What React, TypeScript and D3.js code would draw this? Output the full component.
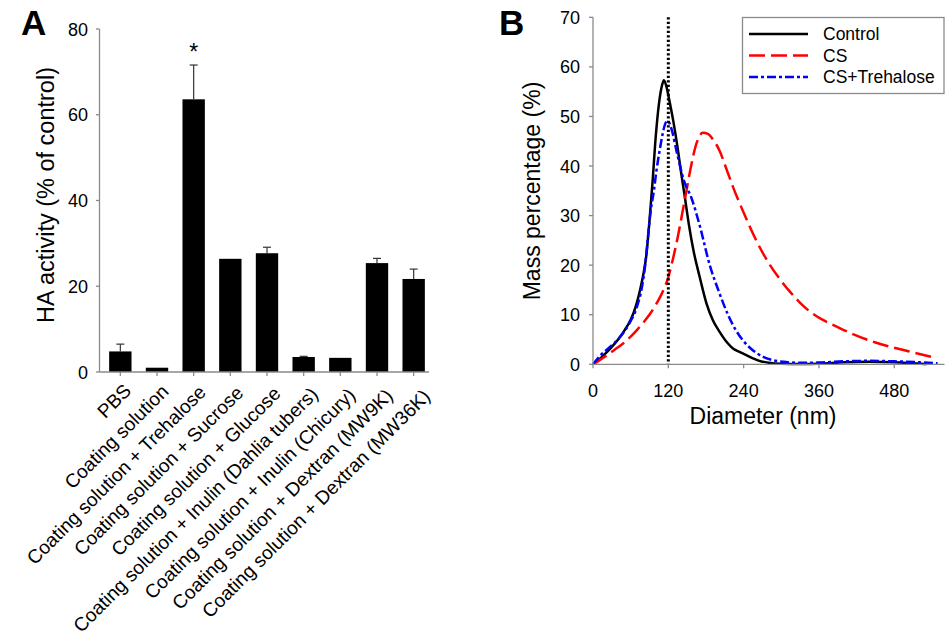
import React from "react";
import * as d3 from "d3";

// ---------- Panel A data ----------
const categoriesA = [
  "PBS",
  "Coating solution",
  "Coating solution + Trehalose",
  "Coating solution + Sucrose",
  "Coating solution + Glucose",
  "Coating solution + Inulin (Dahlia tubers)",
  "Coating solution + Inulin (Chicury)",
  "Coating solution + Dextran (MW9K)",
  "Coating solution + Dextran (MW36K)",
];
const valuesA = [4.8, 1.0, 63.6, 26.4, 27.7, 3.5, 3.3, 25.4, 21.7];
const errorsA = [1.7, 0, 8.0, 0, 1.4, 0.15, 0, 1.1, 2.3];
const significantA = [false, false, true, false, false, false, false, false, false];
const yTicksA = [0, 20, 40, 60, 80];

// ---------- Panel B data ----------
const seriesNamesB = ["Control", "CS", "CS+Trehalose"];
const controlX = [0, 10, 20, 30, 40, 50, 60, 65, 70, 75, 80, 85, 90, 95, 100, 105, 110, 113, 117, 122, 128, 135, 140, 146, 153, 160, 170, 181, 191, 202, 213, 223, 235, 245, 255, 265, 280, 300, 330, 360, 400, 440, 480, 510, 532];
const controlY = [0, 1.0, 2.2, 3.5, 5.0, 6.8, 9.0, 10.5, 12.5, 15.0, 18.0, 22.0, 29.0, 37.0, 46.0, 52.5, 56.3, 57.3, 56.0, 53.0, 49.0, 43.5, 39.0, 34.0, 28.0, 23.0, 17.6, 12.2, 8.9, 6.5, 4.5, 3.2, 2.4, 1.8, 1.2, 0.7, 0.3, 0.1, 0.05, 0.1, 0.4, 0.5, 0.4, 0.2, 0.05];
const csX = [0, 10, 22, 35, 48, 60, 70, 80, 91, 100, 107, 120, 128, 136, 144, 149, 155, 165, 175, 183, 192, 202, 212, 223, 242, 260, 282, 300, 314, 330, 345, 364, 380, 414, 450, 478, 510, 542];
const csY = [0, 0.8, 1.8, 3.0, 4.2, 5.6, 6.9, 8.4, 10.2, 12.0, 13.6, 17.6, 21.6, 26.3, 31.7, 35.1, 39.2, 44.6, 46.7, 46.5, 45.2, 43.0, 39.6, 35.8, 30.0, 25.0, 20.0, 16.8, 14.6, 12.4, 10.7, 9.1, 8.1, 6.1, 4.4, 3.4, 2.4, 1.4];
const treX = [0, 11, 27, 43, 59, 70, 78, 83, 88, 92, 97, 101, 106, 111, 115, 119, 125, 134, 145, 157, 170, 186, 201, 215, 227, 239, 255, 271, 288, 303, 330, 360, 400, 440, 480, 520, 549];
const treY = [0, 1.7, 3.5, 5.5, 8.5, 11.6, 15.6, 19.9, 26.3, 31.0, 35.0, 39.0, 43.0, 46.5, 48.5, 49.1, 47.5, 42.5, 37.0, 33.5, 28.0, 20.0, 14.5, 10.0, 7.0, 4.8, 2.8, 1.5, 0.8, 0.5, 0.3, 0.35, 0.6, 0.7, 0.6, 0.4, 0.2];
const xTicksB = [0, 120, 240, 360, 480];
const yTicksB = [0, 10, 20, 30, 40, 50, 60, 70];
const markerDiameter = 120;

const FONT = "'Liberation Sans', Arial, Helvetica, sans-serif";
const AXIS = "#8a8a8a";

export default function App() {
  // ---- Panel A scales ----
  const xA = d3.scaleBand<string>().domain(categoriesA).range([102, 432]).padding(0);
  const yA = d3.scaleLinear().domain([0, 80]).range([372, 29]);
  const barW = xA.bandwidth() * 0.61;
  const cx = (c: string) => (xA(c) as number) + xA.bandwidth() / 2;

  // ---- Panel B scales ----
  const xB = d3.scaleLinear().domain([0, 560]).range([593, 944.5]);
  const yB = d3.scaleLinear().domain([0, 70]).range([364.3, 17.3]);
  const line = d3
    .line<[number, number]>()
    .x((d) => xB(d[0]))
    .y((d) => yB(d[1]))
    .curve(d3.curveMonotoneX);
  const zip = (xs: number[], ys: number[]) => xs.map((x, i) => [x, ys[i]] as [number, number]);
  const series = [
    { name: seriesNamesB[0], pts: zip(controlX, controlY), color: "#000000", dash: undefined as string | undefined },
    { name: seriesNamesB[1], pts: zip(csX, csY), color: "#ff0000", dash: "16,6" },
    { name: seriesNamesB[2], pts: zip(treX, treY), color: "#0000ff", dash: "9,3,3,3" },
  ];

  return (
    <svg
      width={950}
      height={636}
      style={{ position: "absolute", left: 0, top: 0, background: "#fff" }}
      fontFamily={FONT}
    >
      <rect x={0} y={0} width={950} height={636} fill="#fff" />
      {/* ================= Panel A ================= */}
      <text x={21} y={35} fontSize={35} fontWeight="bold">A</text>
      {/* bars */}
      {categoriesA.map((c, i) => (
        <rect
          key={c}
          x={cx(c) - barW / 2}
          y={yA(valuesA[i])}
          width={barW}
          height={yA(0) - yA(valuesA[i])}
          fill="#000"
        />
      ))}
      {/* error bars */}
      {categoriesA.map((c, i) =>
        errorsA[i] > 0 ? (
          <g key={"e" + c} stroke="#333" strokeWidth={1.2}>
            <line x1={cx(c)} x2={cx(c)} y1={yA(valuesA[i])} y2={yA(valuesA[i] + errorsA[i])} />
            <line x1={cx(c) - 4} x2={cx(c) + 4} y1={yA(valuesA[i] + errorsA[i])} y2={yA(valuesA[i] + errorsA[i])} />
          </g>
        ) : null
      )}
      {categoriesA.map((c, i) =>
        significantA[i] ? (
          <text key={"s" + c} x={cx(c)} y={yA(valuesA[i] + errorsA[i]) - 5} fontSize={23} textAnchor="middle">*</text>
        ) : null
      )}
      {/* axes */}
      <line x1={99.5} x2={99.5} y1={yA(80)} y2={yA(0)} stroke={AXIS} strokeWidth={1.3} />
      <line x1={99.5} x2={429} y1={yA(0)} y2={yA(0)} stroke={AXIS} strokeWidth={1.3} />
      {yTicksA.map((t) => (
        <g key={"ya" + t}>
          <line x1={96} x2={99.5} y1={yA(t)} y2={yA(t)} stroke={AXIS} strokeWidth={1.3} />
          <text x={88} y={yA(t) + 6.5} fontSize={18} textAnchor="end">{t}</text>
        </g>
      ))}
      {categoriesA.map((c, i) => (
        <g key={"xa" + c}>
          <line x1={cx(c)} x2={cx(c)} y1={yA(0)} y2={yA(0) + 4} stroke={AXIS} strokeWidth={1.3} />
          <text
            transform={`translate(${cx(c) + 12 + 0.7 * i},${392 + 0.7 * i}) rotate(-45)`}
            fontSize={19.2}
            textAnchor="end"
          >
            {c}
          </text>
        </g>
      ))}
      <text transform="translate(54,195) rotate(-90)" fontSize={23.5} textAnchor="middle">
        HA activity (% of control)
      </text>

      {/* ================= Panel B ================= */}
      <text x={499} y={35} fontSize={35} fontWeight="bold">B</text>
      {/* curves */}
      {series.map((s) => (
        <path
          key={s.name}
          d={line(s.pts) as string}
          fill="none"
          stroke={s.color}
          strokeWidth={2.5}
          strokeDasharray={s.dash}
        />
      ))}
      {/* reference dotted line */}
      <line
        x1={xB(markerDiameter)}
        x2={xB(markerDiameter)}
        y1={yB(70)}
        y2={yB(0)}
        stroke="#000"
        strokeWidth={3}
        strokeDasharray="2.2,2.3"
      />
      {/* axes */}
      <line x1={593} x2={593} y1={yB(70)} y2={yB(0)} stroke={AXIS} strokeWidth={1.3} />
      <line x1={593} x2={944.5} y1={yB(0)} y2={yB(0)} stroke={AXIS} strokeWidth={1.3} />
      {yTicksB.map((t) => (
        <g key={"yb" + t}>
          <line x1={589} x2={593} y1={yB(t)} y2={yB(t)} stroke={AXIS} strokeWidth={1.3} />
          <text x={580} y={yB(t) + 6.5} fontSize={18} textAnchor="end">{t}</text>
        </g>
      ))}
      {xTicksB.map((t) => (
        <g key={"xb" + t}>
          <line x1={xB(t)} x2={xB(t)} y1={yB(0)} y2={yB(0) + 4} stroke={AXIS} strokeWidth={1.3} />
          <text x={xB(t)} y={396.5} fontSize={18} textAnchor="middle">{t}</text>
        </g>
      ))}
      <text transform="translate(540,191) rotate(-90)" fontSize={23} textAnchor="middle">
        Mass percentage (%)
      </text>
      <text x={763} y={424} fontSize={23} textAnchor="middle">Diameter (nm)</text>

      {/* legend */}
      <rect x={742.5} y={17.5} width={201.5} height={76} fill="#fff" stroke={AXIS} strokeWidth={1.3} />
      {series.map((s, i) => (
        <g key={"lg" + s.name}>
          <line
            x1={749}
            x2={808}
            y1={34 + i * 21.5}
            y2={34 + i * 21.5}
            stroke={s.color}
            strokeWidth={2.5}
            strokeDasharray={s.dash}
          />
          <text x={823} y={34 + i * 21.5 + 6} fontSize={17.5}>{s.name}</text>
        </g>
      ))}
    </svg>
  );
}
